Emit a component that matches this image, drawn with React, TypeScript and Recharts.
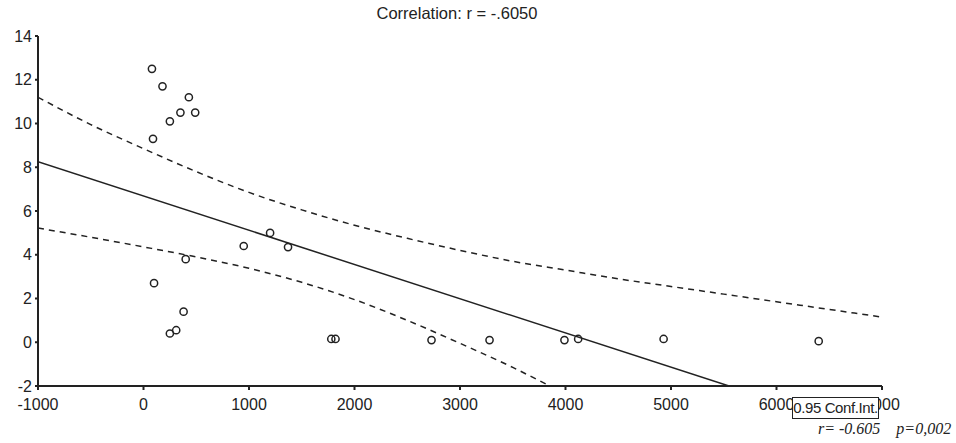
import { ComposedChart, Scatter, Line, XAxis, YAxis } from 'recharts';

const obsX = [80, 180, 430, 250, 350, 490, 90, 950, 1200, 1370, 400, 100, 380, 250, 310, 1780, 1820, 2730, 3280, 3990, 4120, 4930, 6400];
const obsY = [12.5, 11.7, 11.2, 10.1, 10.5, 10.5, 9.3, 4.4, 5.0, 4.35, 3.8, 2.7, 1.4, 0.4, 0.55, 0.15, 0.15, 0.1, 0.1, 0.1, 0.15, 0.15, 0.05];

// fitted line end points
const fitX = [-1000, 5550];
const fitY = [8.25, -2];

// 0.95 confidence band, upper and lower
const upperX = [-1000, -500, 0, 500, 1000, 1500, 2000, 2500, 3000, 3500, 4000, 4500, 5000, 5500, 6000, 6500, 7000];
const upperY = [11.2, 9.95, 8.85, 7.8, 6.85, 6.05, 5.35, 4.75, 4.2, 3.7, 3.3, 2.9, 2.55, 2.2, 1.85, 1.5, 1.15];
const lowerX = [-1000, -500, 0, 500, 1000, 1500, 2000, 2500, 3000, 3500, 3850];
const lowerY = [5.22, 4.8, 4.36, 3.9, 3.38, 2.74, 1.95, 1.0, -0.05, -1.15, -2];

const xTicks = [-1000, 0, 1000, 2000, 3000, 4000, 5000, 6000, 7000];
const yTicks = [-2, 0, 2, 4, 6, 8, 10, 12, 14];

const title = 'Correlation: r = -.6050';
const legendText = '0.95 Conf.Int.';
const statsText = 'r= -0.605    p=0,002';

const ink = '#222';
const font = 'Arial, "Liberation Sans", sans-serif';

const zip = (xs: number[], ys: number[]) => xs.map((x, i) => ({ x, y: ys[i] }));

const points = zip(obsX, obsY);
const fit = zip(fitX, fitY);
const upper = zip(upperX, upperY);
const lower = zip(lowerX, lowerY);

const tickStyle = { fill: ink, fontSize: 16, fontFamily: font };

const Ring = (props: any) => (
    <circle cx={props.cx} cy={props.cy} r={3.6} fill="none" stroke={ink} strokeWidth={1.5} />
);

export default function App() {
    return (
        <div style={{ position: 'absolute', left: 0, top: 0, width: 956, height: 443, background: '#fff' }}>
            <div style={{ position: 'absolute', left: 0, top: 4, width: 914, textAlign: 'center', fontFamily: font, fontSize: 16.5, color: ink }}>
                {title}
            </div>
            <ComposedChart width={956} height={443} margin={{ top: 36, right: 74, bottom: 27, left: 0 }}>
                <XAxis
                    dataKey="x"
                    type="number"
                    domain={[-1000, 7000]}
                    ticks={xTicks}
                    allowDataOverflow
                    height={30}
                    tick={tickStyle}
                    tickSize={4}
                    tickMargin={9}
                    stroke={ink}
                    strokeWidth={2}
                />
                <XAxis
                    xAxisId="top"
                    orientation="top"
                    type="number"
                    domain={[-1000, 7000]}
                    ticks={xTicks}
                    height={0}
                    mirror
                    tickSize={4}
                    tickFormatter={() => ''}
                    stroke={ink}
                    strokeWidth={2}
                />
                <YAxis
                    type="number"
                    domain={[-2, 14]}
                    ticks={yTicks}
                    allowDataOverflow
                    width={38}
                    tick={tickStyle}
                    tickSize={3}
                    tickMargin={3}
                    stroke={ink}
                    strokeWidth={2}
                />
                <YAxis
                    yAxisId="right"
                    orientation="right"
                    type="number"
                    domain={[-2, 14]}
                    ticks={yTicks}
                    width={0}
                    mirror
                    tickSize={4}
                    tickFormatter={() => ''}
                    stroke={ink}
                    strokeWidth={2}
                />
                <Line data={upper} dataKey="y" type="monotone" dot={false} stroke={ink} strokeWidth={1.5} strokeDasharray="6 5" isAnimationActive={false} />
                <Line data={lower} dataKey="y" type="monotone" dot={false} stroke={ink} strokeWidth={1.5} strokeDasharray="6 5" isAnimationActive={false} />
                <Line data={fit} dataKey="y" type="linear" dot={false} stroke={ink} strokeWidth={1.5} isAnimationActive={false} />
                <Scatter data={points} dataKey="y" shape={Ring} isAnimationActive={false} />
            </ComposedChart>
            <div
                style={{
                    position: 'absolute',
                    left: 792,
                    top: 397,
                    width: 87,
                    height: 22,
                    boxSizing: 'border-box',
                    border: `1px solid ${ink}`,
                    background: '#fff',
                    fontFamily: font,
                    fontSize: 15,
                    letterSpacing: -0.4,
                    lineHeight: '20px',
                    textAlign: 'center',
                    whiteSpace: 'nowrap',
                    color: ink,
                }}
            >
                {legendText}
            </div>
            <div
                style={{
                    position: 'absolute',
                    left: 818,
                    top: 420,
                    fontFamily: '"Liberation Serif", "Times New Roman", serif',
                    fontStyle: 'italic',
                    fontSize: 16,
                    color: ink,
                    whiteSpace: 'pre',
                }}
            >
                {statsText}
            </div>
        </div>
    );
}
